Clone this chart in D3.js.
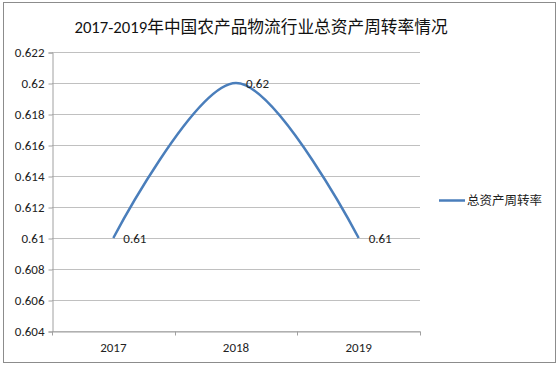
<!DOCTYPE html>
<html><head><meta charset="utf-8">
<script src="https://cdn.jsdelivr.net/npm/d3@7/dist/d3.min.js"></script>
<style>body{margin:0;background:#fff}svg{display:block}</style>
</head><body><svg id="c" width="560" height="366"></svg>
<script>
const title = "2017-2019年中国农产品物流行业总资产周转率情况";
const categories = ["2017", "2018", "2019"];
const seriesName = "总资产周转率";
const values = [0.61, 0.62, 0.61];
const yTicks = [0.604, 0.606, 0.608, 0.61, 0.612, 0.614, 0.616, 0.618, 0.62, 0.622];
const yTickLabels = ["0.604","0.606","0.608","0.61","0.612","0.614","0.616","0.618","0.62","0.622"];

const svg = d3.select("#c");
const font = "Calibri, Carlito, 'Liberation Sans', 'Noto Sans CJK SC', sans-serif";
const cjk = "'Noto Sans CJK SC', sans-serif";
const L = 52, R = 420, T = 52, B = 331;

svg.append("rect").attr("x", 3.5).attr("y", 2.5).attr("width", 552).attr("height", 360)
  .attr("fill", "#fff").attr("stroke", "#8c8c8c").attr("stroke-width", 1);

const x = d3.scaleBand().domain(categories).range([L, R]);
const y = d3.scaleLinear().domain([0.604, 0.622]).range([B, T]);

// gridlines
svg.append("g").selectAll("line").data(yTicks).join("line")
  .attr("x1", L).attr("x2", R)
  .attr("y1", d => Math.round(y(d)) + 0.5).attr("y2", d => Math.round(y(d)) + 0.5)
  .attr("stroke", "#c0c0c0").attr("stroke-width", 1);

// y axis
const yAxis = d3.axisLeft(y).tickValues(yTicks).tickFormat((d, i) => yTickLabels[i]).tickSize(4).tickPadding(4);
const gy = svg.append("g").attr("transform", `translate(${L + 0.5},0.5)`).call(yAxis);
gy.select(".domain").attr("stroke", "#a0a0a0");
gy.selectAll(".tick line").attr("stroke", "#a0a0a0");
gy.selectAll("text").attr("font-family", font).attr("font-size", 13).attr("fill", "#222");

// x axis
const xAxis = d3.axisBottom(x).tickSize(0).tickPadding(11);
const gx = svg.append("g").attr("transform", `translate(0,${B + 0.5})`).call(xAxis);
gx.select(".domain").attr("stroke", "#a0a0a0");
gx.selectAll("text").attr("font-family", font).attr("font-size", 13).attr("fill", "#222");
const bounds = [L, ...categories.map(c => x(c) + x.bandwidth())];
gx.append("g").selectAll("line").data(bounds).join("line")
  .attr("x1", d => Math.round(d) + 0.5).attr("x2", d => Math.round(d) + 0.5)
  .attr("y1", 0).attr("y2", 4).attr("stroke", "#a0a0a0");

// line
const pts = categories.map((c, i) => [x(c) + x.bandwidth() / 2, y(values[i])]);
const line = d3.line().curve(d3.curveCatmullRom.alpha(0));
svg.append("path").attr("d", line(pts)).attr("fill", "none")
  .attr("stroke", "#4a7ebb").attr("stroke-width", 2.5);

// data labels
svg.append("g").selectAll("text").data(values).join("text")
  .attr("x", (d, i) => pts[i][0] + 10).attr("y", (d, i) => pts[i][1] + 5)
  .attr("font-family", font).attr("font-size", 13).attr("fill", "#222")
  .text(d => d3.format("")(d));

// title
svg.append("text").attr("x", 261).attr("y", 33).attr("text-anchor", "middle")
  .attr("font-family", font).attr("font-size", 16.7).attr("fill", "#111").text(title);

// legend
svg.append("line").attr("x1", 439).attr("x2", 465).attr("y1", 200.5).attr("y2", 200.5)
  .attr("stroke", "#4a7ebb").attr("stroke-width", 2.5);
svg.append("text").attr("x", 467).attr("y", 205).attr("font-family", cjk)
  .attr("font-size", 12.5).attr("fill", "#222").text(seriesName);
</script></body></html>
